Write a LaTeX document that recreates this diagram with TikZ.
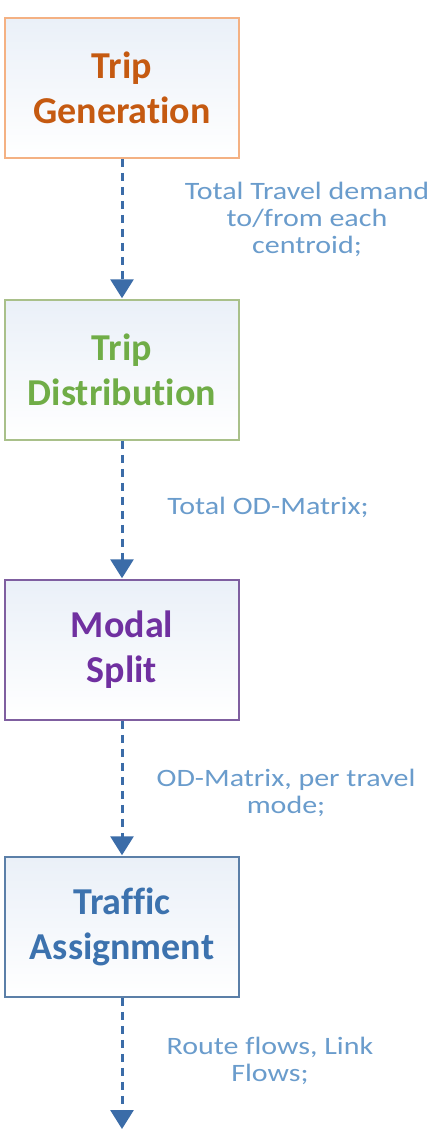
\documentclass[tikz,border=0pt]{standalone}
\usepackage{fontspec}
\setmainfont{Carlito}[RawFeature=-liga]
\newfontfamily\labelfont{Carlito}[FakeStretch=1.2, RawFeature=-liga]
\usetikzlibrary{arrows.meta}
\definecolor{arrowblue}{HTML}{3B6CA8}
\definecolor{labelblue}{HTML}{6A9CCC}
\definecolor{genText}{HTML}{C55A11}
\definecolor{genLine}{HTML}{F4B183}
\definecolor{disText}{HTML}{70AD47}
\definecolor{disLine}{HTML}{A9C08A}
\definecolor{modText}{HTML}{7030A0}
\definecolor{modLine}{HTML}{7F5FA0}
\definecolor{traText}{HTML}{3C72AE}
\definecolor{traLine}{HTML}{5B7FA8}
\definecolor{boxTop}{HTML}{EAF0F8}
\tikzset{
  stagebox/.style={draw=#1, line width=1.5pt, minimum width=234pt, minimum height=140pt,
    top color=boxTop, bottom color=white, align=center, inner sep=0pt,
    font=\fontsize{38}{45}\selectfont\bfseries},
  flowarrow/.style={draw=arrowblue, line width=3pt, dash pattern=on 8pt off 6pt,
    -{Triangle[width=23pt,length=19pt]}, shorten >=1pt},
  flowlabel/.style={text=labelblue, align=center, inner sep=0pt,
    font=\labelfont\fontsize{25}{27}\selectfont}
}
\begin{document}
\begin{tikzpicture}[x=1pt,y=-1pt]
\useasboundingbox (0,0) rectangle (436,1132);
\fill[white] (0,0) rectangle (436,1132);
\node[stagebox=genLine, text=genText] (gen) at (122,88) {Trip\\Generation};
\node[stagebox=disLine, text=disText] (dis) at (122,370) {Trip\\Distribution};
\node[stagebox=modLine, text=modText] (mod) at (122,650) {Modal\\Split};
\node[stagebox=traLine, text=traText] (tra) at (122,927) {Traffic\\Assignment};
\coordinate (end) at (122,1130);
\draw[flowarrow] (gen.south) -- (dis.north);
\draw[flowarrow] (dis.south) -- (mod.north);
\draw[flowarrow] (mod.south) -- (tra.north);
\draw[flowarrow] (tra.south) -- (end);
\node[flowlabel] (l1) at (307,219) {Total Travel demand\\to/from each\\centroid;};
\node[flowlabel] (l2) at (268,507) {Total OD-Matrix;};
\node[flowlabel] (l3) at (286,793) {OD-Matrix, per travel\\mode;};
\node[flowlabel] (l4) at (270,1061) {Route flows, Link\\Flows;};
\end{tikzpicture}
\end{document}
